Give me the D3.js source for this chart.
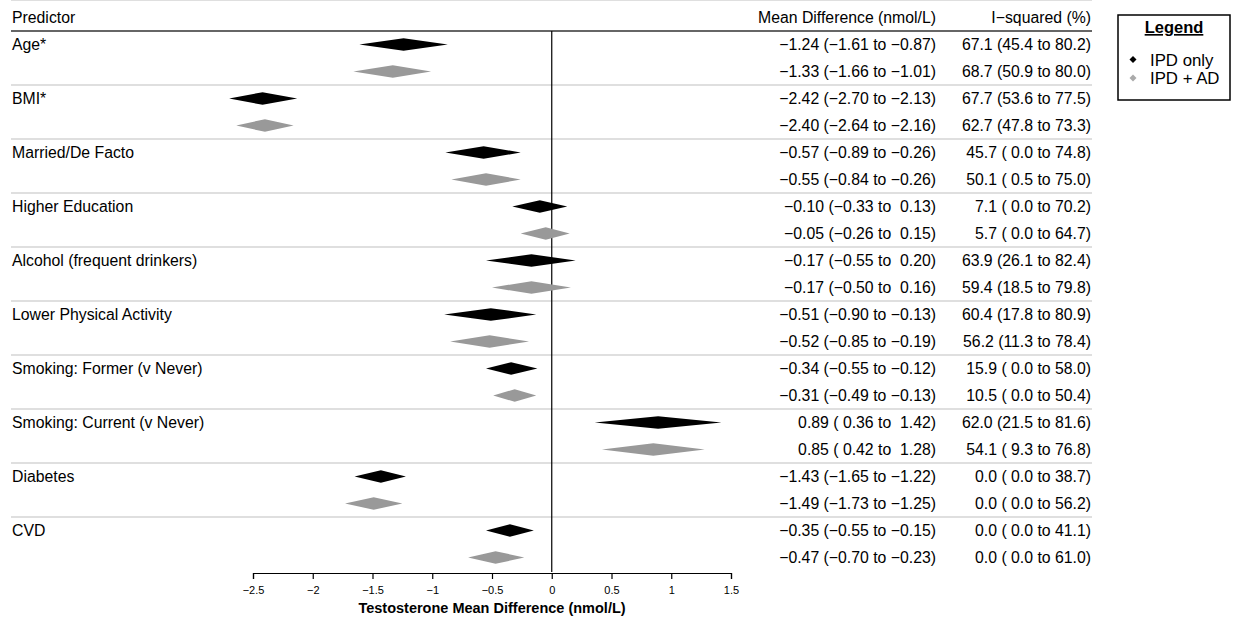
<!DOCTYPE html>
<html><head><meta charset="utf-8">
<script src="https://cdn.jsdelivr.net/npm/d3@7"></script>
<style>body{margin:0;background:#fff}svg{display:block;font-family:Arial,"Liberation Sans",sans-serif}</style>
</head><body><svg id="c" width="1235" height="620"></svg>
<script>
const groups = ["Age*","BMI*","Married/De Facto","Higher Education","Alcohol (frequent drinkers)","Lower Physical Activity","Smoking: Former (v Never)","Smoking: Current (v Never)","Diabetes","CVD"];
const ipdEst = [-1.24,-2.42,-0.57,-0.10,-0.17,-0.51,-0.34,0.89,-1.43,-0.35];
const ipdLo  = [-1.61,-2.70,-0.89,-0.33,-0.55,-0.90,-0.55,0.36,-1.65,-0.55];
const ipdHi  = [-0.87,-2.13,-0.26,0.13,0.20,-0.13,-0.12,1.42,-1.22,-0.15];
const adEst  = [-1.33,-2.40,-0.55,-0.05,-0.17,-0.52,-0.31,0.85,-1.49,-0.47];
const adLo   = [-1.66,-2.64,-0.84,-0.26,-0.50,-0.85,-0.49,0.42,-1.73,-0.70];
const adHi   = [-1.01,-2.16,-0.26,0.15,0.16,-0.19,-0.13,1.28,-1.25,-0.23];
const ipdI2   = [67.1,67.7,45.7,7.1,63.9,60.4,15.9,62.0,0.0,0.0];
const ipdI2Lo = [45.4,53.6,0.0,0.0,26.1,17.8,0.0,21.5,0.0,0.0];
const ipdI2Hi = [80.2,77.5,74.8,70.2,82.4,80.9,58.0,81.6,38.7,41.1];
const adI2    = [68.7,62.7,50.1,5.7,59.4,56.2,10.5,54.1,0.0,0.0];
const adI2Lo  = [50.9,47.8,0.5,0.0,18.5,11.3,0.0,9.3,0.0,0.0];
const adI2Hi  = [80.0,73.3,75.0,64.7,79.8,78.4,50.4,76.8,56.2,61.0];
const seriesNames = ["IPD only","IPD + AD"];
const seriesColors = ["#000000","#999999"];
const xTicks = [-2.5,-2,-1.5,-1,-0.5,0,0.5,1,1.5];

const svg = d3.select("#c");
const x = d3.scaleLinear().domain([-2.5,1.5]).range([253,731]);
const rowsTop = 31, rowH = 27;
const rows = [];
groups.forEach((g,i)=>{
  rows.push({g, first:true, s:0, est:ipdEst[i], lo:ipdLo[i], hi:ipdHi[i], i2:ipdI2[i], i2lo:ipdI2Lo[i], i2hi:ipdI2Hi[i]});
  rows.push({g, first:false, s:1, est:adEst[i], lo:adLo[i], hi:adHi[i], i2:adI2[i], i2lo:adI2Lo[i], i2hi:adI2Hi[i]});
});
const y = d3.scaleBand().domain(d3.range(rows.length)).range([rowsTop, rowsTop+rowH*rows.length]);
const yc = i => y(i)+y.bandwidth()/2;

const f2 = v => { let s = Math.abs(v).toFixed(2); s = (v<0?"\u2212":" ")+s; return s; };
const f1 = v => { let s = v.toFixed(1); return s.length<4 ? " "+s : s; };

// group separators
groups.forEach((g,i)=>{
  const yy = y(i*2+2);
  svg.append("line").attr("x1",11).attr("x2",1092).attr("y1",yy).attr("y2",yy)
    .attr("stroke","#d4d4d4").attr("stroke-width",1.5);
});
// header line
svg.append("line").attr("x1",11).attr("x2",1092).attr("y1",rowsTop).attr("y2",rowsTop)
  .attr("stroke","#666").attr("stroke-width",2);

// zero line
svg.append("line").attr("x1",x(0)).attr("x2",x(0)).attr("y1",rowsTop).attr("y2",y(rows.length-1)+rowH+1)
  .attr("stroke","#000").attr("stroke-width",1.2);

// axis
const axisG = svg.append("g").attr("transform",`translate(0,${rowsTop+rowH*rows.length+2})`)
  .call(d3.axisBottom(x).tickValues(xTicks).tickSize(6).tickPadding(7)
    .tickFormat(d=> d===0 ? "0" : (d<0?"\u2212":"")+Math.abs(d)));
axisG.select(".domain").attr("stroke","#000").attr("stroke-width",1.2);
axisG.selectAll(".tick line").attr("stroke","#000").attr("stroke-width",1.2);
axisG.selectAll(".tick text").attr("font-size",11).attr("fill","#000").attr("font-family","Arial,'Liberation Sans',sans-serif");
svg.append("text").attr("x",(x.range()[0]+x.range()[1])/2).attr("y",613).attr("text-anchor","middle")
  .attr("font-size",14.5).attr("font-weight","bold").text("Testosterone Mean Difference (nmol/L)");

// diamonds
const hh = 6.3;
svg.append("g").selectAll("path").data(rows).join("path")
  .attr("d",(d,i)=>{const c=yc(i);return `M${x(d.lo)},${c}L${x(d.est)},${c-hh}L${x(d.hi)},${c}L${x(d.est)},${c+hh}Z`;})
  .attr("fill",d=>seriesColors[d.s]);

// headers
const tf = 15.8;
svg.append("text").attr("x",12).attr("y",23).attr("font-size",tf).text("Predictor");
svg.append("text").attr("x",936).attr("y",23).attr("font-size",tf).attr("text-anchor","end").text("Mean Difference (nmol/L)");
svg.append("text").attr("x",1091).attr("y",23).attr("font-size",tf).attr("text-anchor","end").text("I\u2212squared (%)");

// labels
rows.forEach((d,i)=>{
  const by = yc(i)+5.5;
  if(d.first) svg.append("text").attr("x",12).attr("y",by).attr("font-size",tf).text(d.g);
  svg.append("text").attr("x",936).attr("y",by).attr("font-size",tf).attr("text-anchor","end")
    .style("white-space","pre").text(`${f2(d.est).trim()} (${f2(d.lo)} to ${f2(d.hi)})`);
  svg.append("text").attr("x",1091).attr("y",by).attr("font-size",tf).attr("text-anchor","end")
    .style("white-space","pre").text(`${f1(d.i2).trim()} (${f1(d.i2lo)} to ${f1(d.i2hi)})`);
});
svg.selectAll("text").filter(function(){return !this.closest(".tick");}).attr("fill","#000");

// legend
const lg = svg.append("g");
lg.append("rect").attr("x",1118).attr("y",15).attr("width",112).attr("height",85)
  .attr("fill","#fff").attr("stroke","#000").attr("stroke-width",1.5);
lg.append("text").attr("x",1174).attr("y",33).attr("text-anchor","middle").attr("font-size",16.5)
  .attr("font-weight","bold").attr("text-decoration","underline").text("Legend");
seriesNames.forEach((n,k)=>{
  const cy = 59.5 + k*18.5;
  lg.append("path").attr("d",`M1129.5,${cy}L1133,${cy-3.5}L1136.5,${cy}L1133,${cy+3.5}Z`).attr("fill",k?"#aaaaaa":seriesColors[k]);
  lg.append("text").attr("x",1150).attr("y",cy+6).attr("font-size",16.8).text(n);
});
</script></body></html>
